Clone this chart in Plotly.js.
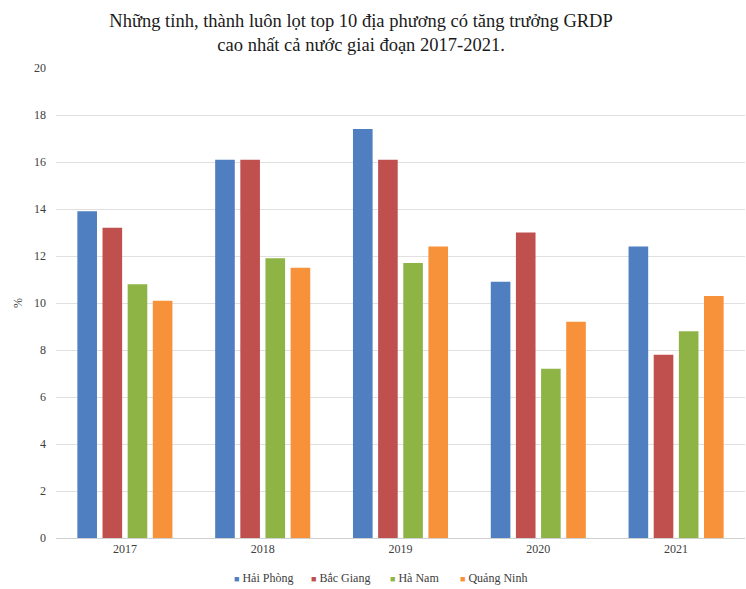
<!DOCTYPE html>
<html>
<head>
<meta charset="utf-8">
<script src="https://cdn.plot.ly/plotly-3.0.1.min.js"></script>
<style>html,body{margin:0;padding:0;background:#fff;}#chart{width:746px;height:589px;}</style>
</head>
<body>
<div id="chart"></div>
<script>
var years = ['2017', '2018', '2019', '2020', '2021'];
var haiPhong = [13.9, 16.1, 17.4, 10.9, 12.4];
var bacGiang = [13.2, 16.1, 16.1, 13.0, 7.8];
var haNam = [10.8, 11.9, 11.7, 7.2, 8.8];
var quangNinh = [10.1, 11.5, 12.4, 9.2, 10.3];
var yTicks = [0, 2, 4, 6, 8, 10, 12, 14, 16, 18, 20];

var names = ['Hải Phòng', 'Bắc Giang', 'Hà Nam', 'Quảng Ninh'];
var series = [haiPhong, bacGiang, haNam, quangNinh];
var colors = ['#4F7FC0', '#C0504D', '#8FB446', '#F7923A'];
// legend entry positions (paper fraction of plot width)
var legendX = [0.255, 0.367, 0.482, 0.584];

var traces = series.map(function (vals, i) {
  return {
    type: 'bar',
    name: names[i],
    x: years,
    y: vals,
    marker: { color: colors[i], line: { color: colors[i], width: 0 } },
    hoverinfo: 'x+y+name'
  };
});

var legendAnnotations = names.map(function (n, i) {
  return {
    xref: 'paper', yref: 'paper',
    x: legendX[i], y: -0.085,
    xanchor: 'left', yanchor: 'middle',
    showarrow: false,
    text: '<span style="color:' + colors[i] + ';font-size:9px">■</span> ' + n,
    font: { family: '"Liberation Serif", serif', size: 12, color: '#404040' }
  };
});

var layout = {
  width: 746,
  height: 589,
  paper_bgcolor: '#fff',
  plot_bgcolor: '#fff',
  margin: { l: 56, r: 1, t: 68, b: 51 },
  font: { family: '"Liberation Serif", "DejaVu Serif", serif', color: '#404040', size: 12 },
  title: {
    text: 'Những tỉnh, thành luôn lọt top 10 địa phương có tăng trưởng GRDP<br>cao nhất cả nước giai đoạn 2017-2021.',
    font: { family: '"Liberation Serif", serif', size: 18.5, color: '#1a1a1a' },
    xref: 'container',
    x: 0.484, xanchor: 'center',
    yref: 'container',
    y: 0.955, yanchor: 'middle'
  },
  barmode: 'group',
  bargap: 0.27,
  bargroupgap: 0.22,
  xaxis: {
    type: 'category',
    showgrid: false,
    showline: true,
    linecolor: '#d0d0d0',
    linewidth: 1,
    ticks: '',
    tickfont: { size: 12, color: '#404040' },
    zeroline: false
  },
  yaxis: {
    range: [0, 20],
    tickvals: yTicks,
    ticktext: yTicks.map(String),
    showgrid: true,
    gridcolor: '#e0e0e0',
    gridwidth: 1,
    zeroline: false,
    showline: false,
    ticks: '',
    ticklen: 0,
    ticklabelstandoff: 9,
    tickfont: { size: 12, color: '#404040' },
    title: { text: '%', font: { size: 12, color: '#404040' }, standoff: 8 }
  },
  annotations: legendAnnotations,
  showlegend: false
};

Plotly.newPlot('chart', traces, layout, { displayModeBar: false, staticPlot: true });
</script>
</body>
</html>
